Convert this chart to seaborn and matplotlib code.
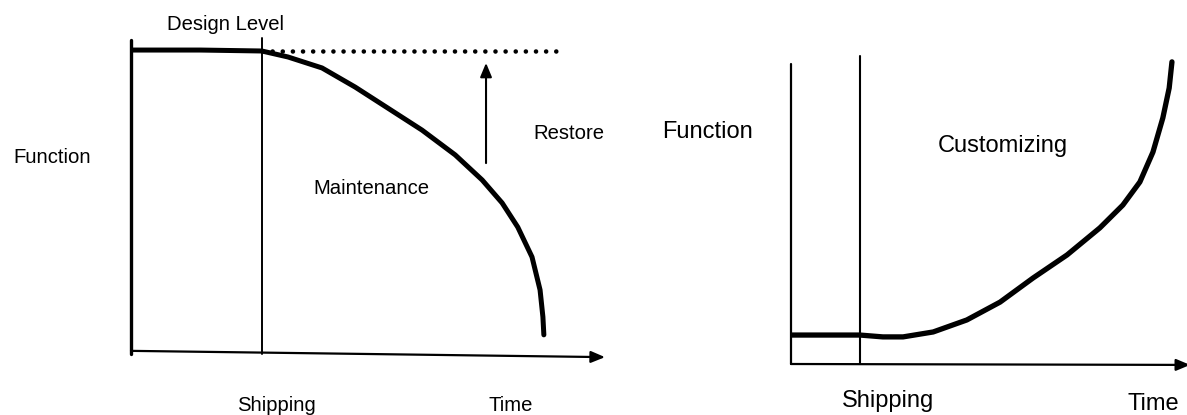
import numpy as np
import pandas as pd
import matplotlib
matplotlib.use('Agg')
import matplotlib.pyplot as plt
import seaborn as sns

sns.set_theme(style='white')
plt.rcParams['font.family'] = ['Liberation Sans', 'DejaVu Sans']

# ---------------- data (time and function level, 0-100 scale) ----------------
# left panel: maintenance curve, drops from design level after shipping
maint_time = [0, 14.6, 27.6, 33.1, 40.3, 47.3, 54.2, 61.4, 68.4, 74.1, 78.3,
              81.6, 84.6, 86.3, 86.9, 87.1]
maint_func = [96.8, 96.8, 96.5, 94.6, 91.1, 85.0, 78.3, 71.3, 63.4, 55.4, 48.1,
              40.4, 30.9, 20.4, 11.8, 6.1]
left_shipping = 27.6
design_level = 96.5
design_level_end = 90.9
restore_x = 74.9
restore_from, restore_to = 60.8, 92.7

# right panel: customizing curve, rises after shipping
cust_time = [0, 17.4, 23.2, 28.3, 35.9, 44.4, 52.8, 61.1, 69.7, 78.0, 83.8,
             88.1, 91.4, 93.9, 95.5, 96.2]
cust_func = [9.4, 9.4, 8.8, 8.8, 10.4, 14.3, 20.1, 27.9, 35.4, 44.2, 51.6,
             59.1, 68.8, 79.9, 89.6, 98.1]
right_shipping = 17.4
right_axis_top = 97.4

W, H = 1187, 415
fig = plt.figure(figsize=(W / 100, H / 100), dpi=100)

def px_box(x0, y0, x1, y1):
    return [x0 / W, 1 - y1 / H, (x1 - x0) / W, (y1 - y0) / H]

arrow_kw = dict(arrowstyle='-|>,head_length=0.6,head_width=0.25', color='black',
                mutation_scale=14, shrinkA=0, shrinkB=0)

# ---------------------- Left: Maintenance ----------------------
ax1 = fig.add_axes(px_box(131, 40, 605, 354))
ax1.set_xlim(0, 100)
ax1.set_ylim(0, 100)
ax1.axis('off')

ax1.plot([0, 0], [0, 100], color='black', lw=2.4, clip_on=False)
ax1.plot([left_shipping, left_shipping], [0, 100.6], color='black', lw=1.4, clip_on=False)
ax1.annotate('', xy=(100, -1), xytext=(0, 1), arrowprops=dict(lw=1.6, **arrow_kw),
             annotation_clip=False)
ax1.plot([left_shipping, design_level_end], [design_level, design_level], color='black',
         lw=3.3, linestyle=(0, (0.01, 2.2)), dash_capstyle='round', clip_on=False)
sns.lineplot(x=maint_time, y=maint_func, ax=ax1, color='black', lw=3.6,
             sort=False, estimator=None, legend=False, solid_joinstyle='round')
ax1.annotate('', xy=(restore_x, restore_to), xytext=(restore_x, restore_from),
             arrowprops=dict(lw=1.5, **arrow_kw))

# ---------------------- Right: Customizing ----------------------
ax2 = fig.add_axes(px_box(791, 56, 1187, 364))
ax2.set_xlim(0, 100)
ax2.set_ylim(0, 100)
ax2.axis('off')

ax2.plot([0, 0], [0, right_axis_top], color='black', lw=1.6, clip_on=False)
ax2.plot([right_shipping, right_shipping], [0, 100], color='black', lw=1.5, clip_on=False)
ax2.annotate('', xy=(100.8, -0.3), xytext=(0, 0), arrowprops=dict(lw=1.6, **arrow_kw),
             annotation_clip=False)
sns.lineplot(x=cust_time, y=cust_func, ax=ax2, color='black', lw=3.8,
             sort=False, estimator=None, legend=False, solid_joinstyle='round')

# ---------------------- labels ----------------------
def label(x, y, s, size):
    fig.text(x / W, 1 - y / H, s, ha='left', va='baseline', fontsize=size, color='black')

label(167, 30, 'Design Level', 14.6)
label(13, 163, 'Function', 14.6)
label(313, 194, 'Maintenance', 14.6)
label(533, 139, 'Restore', 14.6)
label(237, 411, 'Shipping', 14.6)
label(488, 411, 'Time', 14.6)

label(662, 138, 'Function', 17)
label(938, 152, 'Customizing', 17)
label(842, 407, 'Shipping', 17)
label(1127, 410, 'Time', 17)

fig.savefig('out.png', dpi=100)
